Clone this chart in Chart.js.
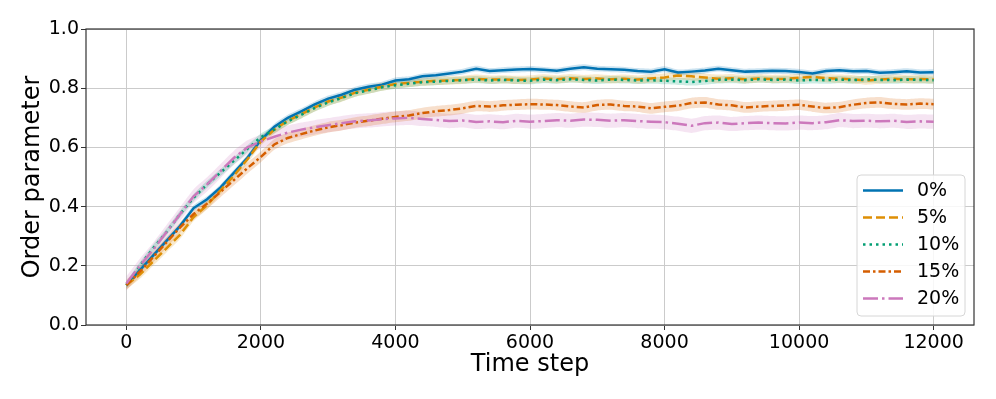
<!DOCTYPE html>
<html>
<head>
<meta charset="utf-8">
<script src="https://cdn.jsdelivr.net/npm/chart.js@4.4.0/dist/chart.umd.min.js"></script>
<style>
  html, body { margin: 0; padding: 0; background: #fff; }
  #wrap { width: 996px; height: 399px; }
</style>
</head>
<body>
<div id="wrap"><canvas id="chart" width="996" height="399"></canvas></div>
<script>
// time steps (x)
const steps = [0, 200, 400, 600, 800, 1000, 1200, 1400, 1600, 1800, 2000, 2200, 2400, 2600, 2800, 3000,
  3200, 3400, 3600, 3800, 4000, 4200, 4400, 4600, 4800, 5000, 5200, 5400, 5600, 5800, 6000,
  6200, 6400, 6600, 6800, 7000, 7200, 7400, 7600, 7800, 8000, 8200, 8400, 8600, 8800, 9000,
  9200, 9400, 9600, 9800, 10000, 10200, 10400, 10600, 10800, 11000, 11200, 11400, 11600, 11800, 12000];

const labels = ['0%', '5%', '10%', '15%', '20%'];

const p0 = [0.135, 0.185, 0.235, 0.285, 0.335, 0.395, 0.425, 0.465, 0.515, 0.565, 0.625, 0.670, 0.700, 0.722, 0.745, 0.765,
  0.778, 0.795, 0.805, 0.812, 0.826, 0.830, 0.840, 0.844, 0.850, 0.856, 0.866, 0.858, 0.861, 0.863, 0.865,
  0.862, 0.859, 0.866, 0.871, 0.866, 0.864, 0.862, 0.858, 0.856, 0.864, 0.853, 0.856, 0.860, 0.866, 0.861,
  0.856, 0.857, 0.859, 0.858, 0.855, 0.850, 0.858, 0.861, 0.857, 0.858, 0.852, 0.854, 0.857, 0.853, 0.854];

const p5 = [0.135, 0.170, 0.215, 0.260, 0.305, 0.365, 0.405, 0.455, 0.505, 0.560, 0.620, 0.660, 0.690, 0.712, 0.735, 0.755,
  0.768, 0.785, 0.795, 0.805, 0.814, 0.818, 0.822, 0.825, 0.826, 0.828, 0.832, 0.829, 0.830, 0.828, 0.829,
  0.833, 0.830, 0.834, 0.831, 0.833, 0.830, 0.832, 0.829, 0.833, 0.836, 0.843, 0.840, 0.836, 0.832, 0.834,
  0.830, 0.833, 0.831, 0.832, 0.835, 0.838, 0.834, 0.832, 0.830, 0.826, 0.829, 0.832, 0.830, 0.831, 0.830];

const p10 = [0.135, 0.200, 0.260, 0.315, 0.375, 0.430, 0.475, 0.515, 0.555, 0.595, 0.635, 0.660, 0.688, 0.710, 0.733, 0.752,
  0.767, 0.783, 0.793, 0.803, 0.810, 0.815, 0.820, 0.822, 0.825, 0.827, 0.829, 0.826, 0.828, 0.826, 0.825,
  0.829, 0.827, 0.830, 0.828, 0.826, 0.829, 0.828, 0.826, 0.827, 0.825, 0.823, 0.821, 0.824, 0.828, 0.829,
  0.827, 0.830, 0.828, 0.829, 0.826, 0.828, 0.827, 0.829, 0.827, 0.830, 0.828, 0.827, 0.829, 0.828, 0.827];

const p15 = [0.135, 0.180, 0.230, 0.280, 0.330, 0.375, 0.410, 0.450, 0.490, 0.530, 0.568, 0.610, 0.632, 0.645, 0.657, 0.668,
  0.675, 0.684, 0.690, 0.697, 0.703, 0.708, 0.716, 0.722, 0.726, 0.732, 0.740, 0.738, 0.742, 0.744, 0.746,
  0.745, 0.743, 0.738, 0.735, 0.743, 0.745, 0.740, 0.738, 0.732, 0.737, 0.741, 0.750, 0.752, 0.745, 0.742,
  0.735, 0.738, 0.740, 0.742, 0.744, 0.738, 0.733, 0.736, 0.744, 0.750, 0.752, 0.747, 0.745, 0.748, 0.746];

const p20 = [0.140, 0.200, 0.255, 0.315, 0.375, 0.435, 0.475, 0.520, 0.565, 0.600, 0.620, 0.636, 0.650, 0.660, 0.668, 0.675,
  0.682, 0.688, 0.691, 0.695, 0.698, 0.700, 0.696, 0.693, 0.689, 0.691, 0.686, 0.688, 0.685, 0.690, 0.687,
  0.689, 0.692, 0.690, 0.694, 0.693, 0.690, 0.692, 0.689, 0.687, 0.685, 0.680, 0.673, 0.682, 0.684, 0.679,
  0.682, 0.684, 0.682, 0.681, 0.684, 0.682, 0.685, 0.692, 0.689, 0.690, 0.688, 0.690, 0.686, 0.688, 0.687];

// half-width of the shaded band for each series
const spread = [0.010, 0.014, 0.012, 0.018, 0.024];

const xTicks = [0, 2000, 4000, 6000, 8000, 10000, 12000];
const yTicks = [0, 0.2, 0.4, 0.6, 0.8, 1.0];

const series = [p0, p5, p10, p15, p20];
const colors = ['#0173b2', '#de8f05', '#029e73', '#d55e00', '#cc78bc'];
const bands = ['rgba(1,115,178,0.2)', 'rgba(222,143,5,0.2)', 'rgba(2,158,115,0.2)', 'rgba(213,94,0,0.2)', 'rgba(204,120,188,0.2)'];
const dashes = [[], [9, 4], [2.5, 4], [7, 3, 2.5, 3], [15, 4, 2.5, 4]];

const FONT = "'DejaVu Sans', sans-serif";

const toPts = (vals, off) => vals.map((v, i) => ({ x: steps[i], y: v + off }));

const datasets = [];
series.forEach((vals, i) => {
  const upIdx = datasets.length;
  datasets.push({
    label: labels[i] + ' hi', data: toPts(vals, spread[i]),
    borderWidth: 0, pointRadius: 0, fill: false, order: 20 + i, tension: 0.2
  });
  datasets.push({
    label: labels[i] + ' lo', data: toPts(vals, -spread[i]),
    borderWidth: 0, pointRadius: 0, backgroundColor: bands[i],
    fill: { target: upIdx }, order: 20 + i, tension: 0.2
  });
});
series.forEach((vals, i) => {
  datasets.push({
    label: labels[i], data: toPts(vals, 0),
    borderColor: colors[i], borderWidth: 2.5, borderDash: dashes[i],
    pointRadius: 0, fill: false, order: 10 - i, tension: 0
  });
});

// axes frame
const framePlugin = {
  id: 'frame',
  afterDatasetsDraw(chart) {
    const a = chart.chartArea, ctx = chart.ctx;
    ctx.save();
    ctx.strokeStyle = '#333';
    ctx.lineWidth = 1.2;
    ctx.strokeRect(a.left, a.top, a.right - a.left, a.bottom - a.top);
    ctx.restore();
  }
};

// matplotlib style legend, lower right
const legendPlugin = {
  id: 'mplLegend',
  afterDraw(chart) {
    const a = chart.chartArea, ctx = chart.ctx;
    const w = 108, h = 141, r = 4;
    const x0 = a.right - 9 - w, y0 = a.bottom - 9 - h;
    ctx.save();
    ctx.beginPath();
    ctx.roundRect(x0, y0, w, h, r);
    ctx.fillStyle = 'rgba(255,255,255,0.85)';
    ctx.fill();
    ctx.strokeStyle = '#d6d6d6';
    ctx.lineWidth = 1;
    ctx.stroke();
    ctx.font = '19px ' + FONT;
    ctx.textBaseline = 'middle';
    labels.forEach((lab, i) => {
      const cy = y0 + 15.5 + i * 27;
      ctx.beginPath();
      ctx.setLineDash(dashes[i]);
      ctx.strokeStyle = colors[i];
      ctx.lineWidth = 2.5;
      ctx.moveTo(x0 + 6, cy);
      ctx.lineTo(x0 + 46, cy);
      ctx.stroke();
      ctx.setLineDash([]);
      ctx.fillStyle = '#000';
      ctx.fillText(lab, x0 + 60, cy + 1);
    });
    ctx.restore();
  }
};

new Chart(document.getElementById('chart'), {
  type: 'line',
  data: { datasets },
  options: {
    responsive: false,
    animation: false,
    events: [],
    layout: { padding: { top: 29, right: 22, left: 0, bottom: 0 } },
    plugins: { legend: { display: false }, tooltip: { enabled: false } },
    scales: {
      x: {
        type: 'linear', min: -600, max: 12600,
        afterBuildTicks: s => { s.ticks = xTicks.map(v => ({ value: v })); },
        afterFit: s => { s.height = 74; },
        ticks: { font: { family: FONT, size: 19 }, color: '#000', padding: 2, maxRotation: 0, autoSkip: false, callback: v => String(v) },
        grid: { color: '#cbcbcb', lineWidth: 1, tickLength: 5, tickColor: '#333' },
        border: { display: false },
        title: { display: true, text: 'Time step', font: { family: FONT, size: 24 }, color: '#000', padding: { top: 0, bottom: 20 } }
      },
      y: {
        min: 0, max: 1,
        afterBuildTicks: s => { s.ticks = yTicks.map(v => ({ value: v })); },
        afterFit: s => { s.width = 86; },
        ticks: { font: { family: FONT, size: 19 }, color: '#000', padding: 2, callback: v => v.toFixed(1) },
        grid: { color: '#cbcbcb', lineWidth: 1, tickLength: 5, tickColor: '#333' },
        border: { display: false },
        title: { display: true, text: 'Order parameter', font: { family: FONT, size: 24 }, color: '#000', padding: { top: 18, bottom: 0 } }
      }
    }
  },
  plugins: [framePlugin, legendPlugin]
});
</script>
</body>
</html>
